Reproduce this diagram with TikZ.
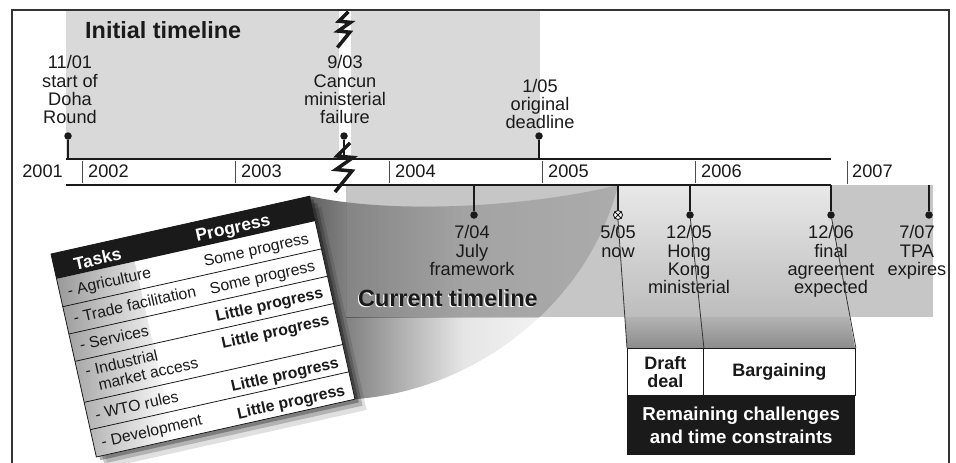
\documentclass[tikz,border=0pt]{standalone}
\usepackage{fontspec}
\setmainfont{Liberation Sans}
\usetikzlibrary{fadings}
\definecolor{initgray}{HTML}{D9D9D9}
\definecolor{curgray}{HTML}{C6C6C6}
\definecolor{ink}{HTML}{1A1A1A}
\definecolor{framegray}{HTML}{333333}
\newcommand{\firstln}{\rule{0pt}{14pt}}
\tikzfading[name=conefadeout, left color=transparent!38, right color=transparent!100, middle color=transparent!90]
\tikzfading[name=conefadein, left color=transparent!72, right color=transparent!100, middle color=transparent!95]
\begin{document}
\begin{tikzpicture}[x=1pt,y=-1pt,
  lbl/.style={font=\fontsize{18.2}{18.3}\selectfont, align=center, anchor=north, inner sep=0, text=ink},
  yr/.style={font=\fontsize{18.2}{18.5}\selectfont, inner sep=0, anchor=base west, text=ink},
  ttl/.style={font=\bfseries\fontsize{23.4}{24}\selectfont, inner sep=0, anchor=base west},
  stemline/.style={line width=1.6, draw=ink},
  dotm/.style={circle, fill=ink, inner sep=0, minimum size=7.5},
  barline/.style={line width=2.6, draw=ink},
  tickline/.style={line width=0.9, draw=black!70},
  cell/.style={font=\fontsize{15.8}{16.5}\selectfont, inner sep=0, text=ink, transform shape},
  boldcell/.style={cell, font=\bfseries\fontsize{15.8}{16.5}\selectfont},
  hdr/.style={inner sep=0, text=white, font=\bfseries\fontsize{17.5}{18}\selectfont, transform shape, anchor=base west},
  rowline/.style={line width=0.8, draw=ink},
  projline/.style={line width=0.8, draw=black!80},
  framel/.style={line width=1.5, draw=framegray},
  tablexf/.style={shift={(51,254)}, rotate=12.6},
  boxtxt/.style={font=\bfseries\fontsize{18}{17.3}\selectfont, align=center, inner sep=0, text=ink},
  brk/.pic={\draw[line width=3.5, draw=ink, line join=miter] (6,-25) -- (-7,-12) -- (9,-10.5) -- (-8,1.5) -- (8,3) -- (-9,24);}
]
\useasboundingbox (0,0) rectangle (956,463);

% initial timeline background
\fill[initgray] (66,10) rectangle (339,158);
\fill[initgray] (351,10) rectangle (540,158);

% current timeline background
\fill[curgray] (346,185) rectangle (933,317);

% projection to remaining challenges
\shade[top color=black!9, bottom color=black!26] (618,185) -- (831,185) -- (831,215) -- (849.4,317) -- (624.9,317) -- (618,215) -- cycle;
\shade[top color=black!30, bottom color=black!45] (624.9,317) -- (849.4,317) -- (855,348) -- (627,348) -- cycle;

% table corner coordinates
\begin{scope}[tablexf]
  \coordinate (tTR) at (265,0);
  \coordinate (tBR) at (265,208);
\end{scope}

% cone from timeline to table: inside the grey band
\begin{scope}
  \clip (346,185) rectangle (933,317);
  \fill[black, opacity=0.13] (tTR) .. controls (400,216) and (540,205) .. (618,185) .. controls (590,300) and (480,390) .. (tBR) -- cycle;
  \fill[black, path fading=conefadein] (tTR) .. controls (400,216) and (540,205) .. (618,185) .. controls (590,300) and (480,390) .. (tBR) -- cycle;
\end{scope}
% cone outside the grey band
\begin{scope}
  \clip (0,0) rectangle (346,463) (346,317) rectangle (956,463);
  \fill[black, path fading=conefadeout] (tTR) .. controls (400,216) and (540,205) .. (618,185) .. controls (590,300) and (480,390) .. (tBR) -- cycle;
\end{scope}

% table
\begin{scope}[tablexf]
  \fill[black, opacity=0.12] (9,13) rectangle (274,221);
  \fill[black, opacity=0.2] (6,8) rectangle (271,216);
  \fill[black, opacity=0.3] (3,4) rectangle (268,212);
  \fill[white] (0,0) rectangle (265,208);
  \shade[left color=black!40, right color=white] (0,25.5) rectangle (80,208);
  \fill[ink] (0,0) rectangle (265,25.5);
  \foreach \v in {54,82,110,152,180} \draw[rowline] (0,\v) -- (265,\v);
  \draw[rowline] (0,0) rectangle (265,208);
  \node[hdr] (tasks) at (20,21) {Tasks};
  \node[hdr] (prog) at (145,20) {Progress};
  \node[cell, anchor=base west] (c1) at (8,45) {- Agriculture};
  \node[cell, anchor=base west] (c2) at (8,73) {- Trade facilitation};
  \node[cell, anchor=base west] (c3) at (8,101) {- Services};
  \node[cell, anchor=north west, align=left] (c4) at (8,115) {\rule{0pt}{12pt}- Industrial\\\hphantom{- }market access};
  \node[cell, anchor=base west] (c5) at (8,172) {- WTO rules};
  \node[cell, anchor=base west] (c6) at (8,200) {- Development};
  \node[cell, anchor=base east] (p1) at (255,46) {Some progress};
  \node[cell, anchor=base east] (p2) at (255,74) {Some progress};
  \node[boldcell, anchor=base east] (p3) at (257,102) {Little progress};
  \node[boldcell, anchor=base east] (p4) at (257,130) {Little progress};
  \node[boldcell, anchor=base east] (p5) at (257,174) {Little progress};
  \node[boldcell, anchor=base east] (p6) at (257,202) {Little progress};
\end{scope}

% timeline bar
\fill[white] (66,159) rectangle (831,185);
\draw[barline] (66,159) -- (831,159);
\draw[barline] (66,185) -- (831,185);
\foreach \t in {82,235,389,542,695} \draw[tickline] (\t,161) -- (\t,183);
\draw[tickline] (847,161) -- (847,184);
\node[yr, anchor=base east] (y2001) at (63,177) {2001};
\node[yr] (y2002) at (88,177) {2002};
\node[yr] (y2003) at (241,177) {2003};
\node[yr] (y2004) at (395,177) {2004};
\node[yr] (y2005) at (548,177) {2005};
\node[yr] (y2006) at (701,177) {2006};
\node[yr] (y2007) at (852,177) {2007};

% events above
\coordinate (b1101) at (68,159);
\coordinate (b0903) at (344,159);
\coordinate (b0105) at (539,159);
\node[dotm] (d1101) at (68,136) {};
\node[dotm] (d0903) at (344,136) {};
\node[dotm] (d0105) at (539,136) {};
\draw[stemline] (d1101) -- (b1101);
\draw[stemline] (d0903) -- (b0903);
\draw[stemline] (d0105) -- (b0105);
\node[lbl] (l1101) at (70,54.5) {\firstln 11/01\\start of\\Doha\\Round};
\node[lbl] (l0903) at (345,54.5) {\firstln 9/03\\Cancun\\ministerial\\failure};
\node[lbl] (l0105) at (540,78) {\firstln 1/05\\original\\deadline};

% events below
\coordinate (b0704) at (474,185);
\coordinate (b0505) at (618,185);
\coordinate (b1205) at (690,185);
\coordinate (b1206) at (831,185);
\coordinate (b0707) at (929,185);
\node[dotm] (d0704) at (474,215) {};
\node[circle, draw=ink, fill=white, line width=0.9, inner sep=0, minimum size=9] (n0505) at (618,215) {};
\node[dotm] (d1205) at (690,215) {};
\node[dotm] (d1206) at (831,215) {};
\node[dotm] (d0707) at (929,215) {};
\draw[stemline] (b0704) -- (d0704);
\draw[stemline] (b0505) -- (n0505);
\draw[stemline] (b1205) -- (d1205);
\draw[stemline] (b1206) -- (d1206);
\draw[stemline] (b0707) -- (d0707);
\draw[line width=0.9, draw=ink] (n0505.north west) -- (n0505.south east) (n0505.north east) -- (n0505.south west);
\node[lbl] (l0704) at (472,224.5) {\firstln 7/04\\July\\framework};
\node[lbl] (l0505) at (618,224.5) {\firstln 5/05\\now};
\node[lbl] (l1205) at (689,224.5) {\firstln 12/05\\Hong\\Kong\\ministerial};
\node[lbl] (l1206) at (831,224.5) {\firstln 12/06\\final\\agreement\\expected};
\node[lbl] (l0707) at (917,224.5) {\firstln 7/07\\TPA\\expires};

% remaining challenges box
\node[boxtxt, draw=ink, line width=0.9, fill=white, minimum width=76, minimum height=47, anchor=north west] (draft) at (627,348) {Draft\\deal};
\node[boxtxt, draw=ink, line width=0.9, fill=white, minimum width=152, minimum height=47, anchor=north west] (barg) at (703,348) {Bargaining};
\node[font=\bfseries\fontsize{18.7}{22.5}\selectfont, align=center, inner sep=0, fill=ink, text=white, minimum width=228, minimum height=60, anchor=north west] (remain) at (627,395) {Remaining challenges\\and time constraints};
\draw[projline] (n0505.south) -- (draft.north west);
\draw[projline] (d1205) -- (draft.north east);
\draw[projline] (d1206) -- (barg.north east);

% break symbols
\pic (brkbar) at (344,168) {brk};
\pic[scale=0.73] (brktop) at (344,30) {brk};

% titles
\node[ttl, text=ink] (ititle) at (85,38) {Initial timeline};
\node[ttl, text=white] (ctshadow) at (356.8,307.7) {Current timeline};
\node[ttl, text=ink] (ctitle) at (358,306.5) {Current timeline};

% frame
\draw[framel] (12,463) -- (12,10) -- (949,10) -- (949,463);
\end{tikzpicture}
\end{document}
